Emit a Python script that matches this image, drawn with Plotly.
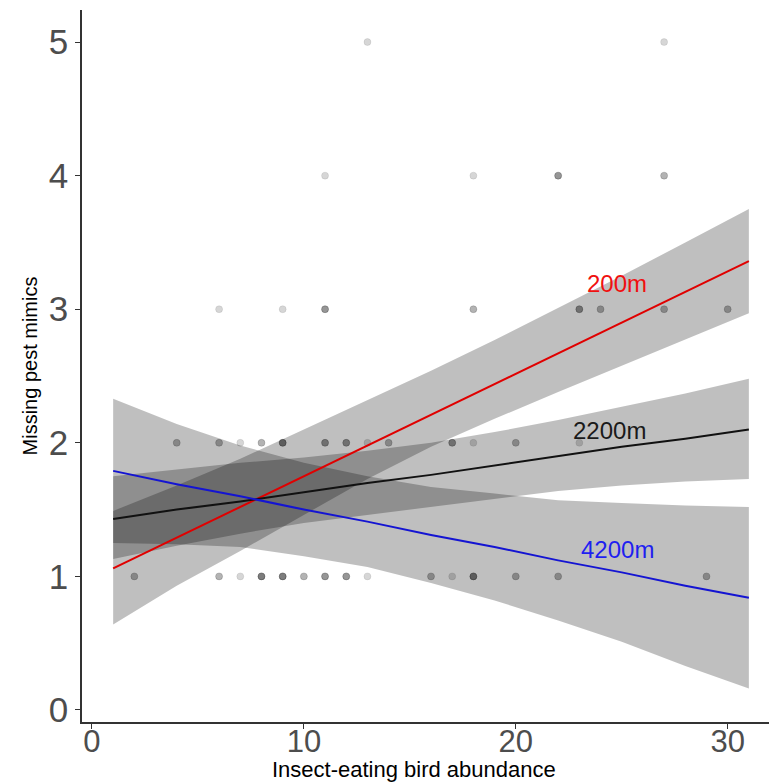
import plotly.graph_objects as go

# ---------------- data ----------------
# observed points (x = bird abundance, y = missing mimics, n = number of overlapping observations)
pts_x = [2, 6, 7, 8, 9, 10, 11, 12, 13, 16, 17, 18, 20, 22, 29,
         4, 6, 7, 8, 9, 11, 12, 13, 14, 17, 18, 20, 23,
         6, 9, 11, 18, 23, 24, 27, 30,
         11, 18, 22, 27,
         13, 27]
pts_y = [1] * 15 + [2] * 13 + [3] * 8 + [4] * 4 + [5] * 2
pts_n = [2, 2, 1, 4, 4, 2, 3, 3, 1, 2, 1, 4, 2, 2, 2,
         2, 2, 1, 2, 4, 3, 3, 1, 2, 3, 1, 2, 1,
         1, 1, 3, 2, 3, 2, 2, 2,
         1, 1, 3, 2,
         1, 1]

# model predictions at each distance
band_x = [1, 4, 7, 10, 13, 16, 19, 22, 25, 28, 31]

fit_200 = [1.06, 1.29, 1.52, 1.75, 1.98, 2.21, 2.44, 2.67, 2.90, 3.13, 3.36]
lo_200 = [0.64, 0.93, 1.19, 1.46, 1.73, 1.97, 2.18, 2.38, 2.58, 2.775, 2.97]
hi_200 = [1.49, 1.68, 1.88, 2.10, 2.32, 2.54, 2.77, 3.01, 3.25, 3.50, 3.75]

fit_2200 = [1.43, 1.50, 1.56, 1.63, 1.70, 1.76, 1.83, 1.90, 1.97, 2.03, 2.10]
lo_2200 = [1.13, 1.23, 1.32, 1.40, 1.46, 1.52, 1.58, 1.64, 1.68, 1.71, 1.73]
hi_2200 = [1.75, 1.80, 1.85, 1.89, 1.94, 2.00, 2.08, 2.17, 2.27, 2.37, 2.48]

fit_4200 = [1.79, 1.69, 1.60, 1.50, 1.41, 1.31, 1.22, 1.12, 1.03, 0.93, 0.84]
lo_4200 = [1.25, 1.24, 1.22, 1.15, 1.07, 0.95, 0.82, 0.67, 0.51, 0.33, 0.16]
hi_4200 = [2.33, 2.14, 1.98, 1.85, 1.75, 1.67, 1.62, 1.57, 1.55, 1.53, 1.52]

series_names = ["200m", "2200m", "4200m"]
label_x = [24.8, 24.4, 24.8]
label_y = [3.19, 2.09, 1.20]
x_ticks = [0, 10, 20, 30]
y_ticks = [0, 1, 2, 3, 4, 5]
x_title = "Insect-eating bird abundance"
y_title = "Missing pest mimics"

# ---------------- figure ----------------
FONT = "Arial, Liberation Sans, sans-serif"
fig = go.Figure()

# points (duplicates drawn on top of each other -> darker)
px, py = [], []
for x, y, n in zip(pts_x, pts_y, pts_n):
    px += [x] * n
    py += [y] * n
fig.add_trace(go.Scatter(
    x=px, y=py, mode="markers",
    marker=dict(size=7, color="rgba(0,0,0,0.16)",
                line=dict(width=1, color="rgba(0,0,0,0.08)")),
    hoverinfo="skip", showlegend=False))

bands = [(lo_200, hi_200), (lo_2200, hi_2200), (lo_4200, hi_4200)]
for lo, hi in bands:
    fig.add_trace(go.Scatter(
        x=band_x + band_x[::-1], y=hi + lo[::-1],
        fill="toself", fillcolor="rgba(0,0,0,0.25)",
        line=dict(width=0), mode="lines",
        hoverinfo="skip", showlegend=False))

line_colors = ["#E00000", "#111111", "#1414D2"]
text_colors = ["#F01010", "#1a1a1a", "#1f1fF0"]
fits = [fit_200, fit_2200, fit_4200]
for name, fit, col in zip(series_names, fits, line_colors):
    fig.add_trace(go.Scatter(
        x=band_x, y=fit, mode="lines", name=name,
        line=dict(color=col, width=2), showlegend=False))

for name, lx, ly, col in zip(series_names, label_x, label_y, text_colors):
    fig.add_annotation(x=lx, y=ly, text=name, showarrow=False,
                       font=dict(family=FONT, size=24, color=col),
                       xanchor="center", yanchor="middle")

# x-axis title placed just under the tick labels
fig.add_annotation(x=0.483, y=-0.0475, xref="paper", yref="paper",
                   text=x_title, showarrow=False, borderpad=0,
                   xanchor="center", yanchor="top",
                   font=dict(family=FONT, size=22, color="black"))

fig.update_layout(
    width=769, height=782,
    margin=dict(l=82, r=0, t=10, b=60),
    plot_bgcolor="white", paper_bgcolor="white",
    font=dict(family=FONT),
    showlegend=False,
)
fig.update_xaxes(
    range=[-0.47, 31.95], tickvals=x_ticks, showgrid=False, zeroline=False,
    showline=True, linecolor="#333333", linewidth=1.5,
    ticks="outside", ticklen=5, tickcolor="#333333", tickwidth=1,
    tickfont=dict(family=FONT, size=31, color="#4D4D4D"),
    ticklabelstandoff=-14,
    automargin=False,
)
fig.update_yaxes(
    range=[-0.09, 5.24], tickvals=y_ticks, showgrid=False, zeroline=False,
    showline=True, linecolor="#333333", linewidth=1.5,
    ticks="outside", ticklen=5, tickcolor="#333333", tickwidth=1,
    tickfont=dict(family=FONT, size=35, color="#4D4D4D"),
    title=dict(text=y_title,
               font=dict(family=FONT, size=20, color="black"), standoff=6),
    automargin=False,
)

fig.write_html("out.html")
